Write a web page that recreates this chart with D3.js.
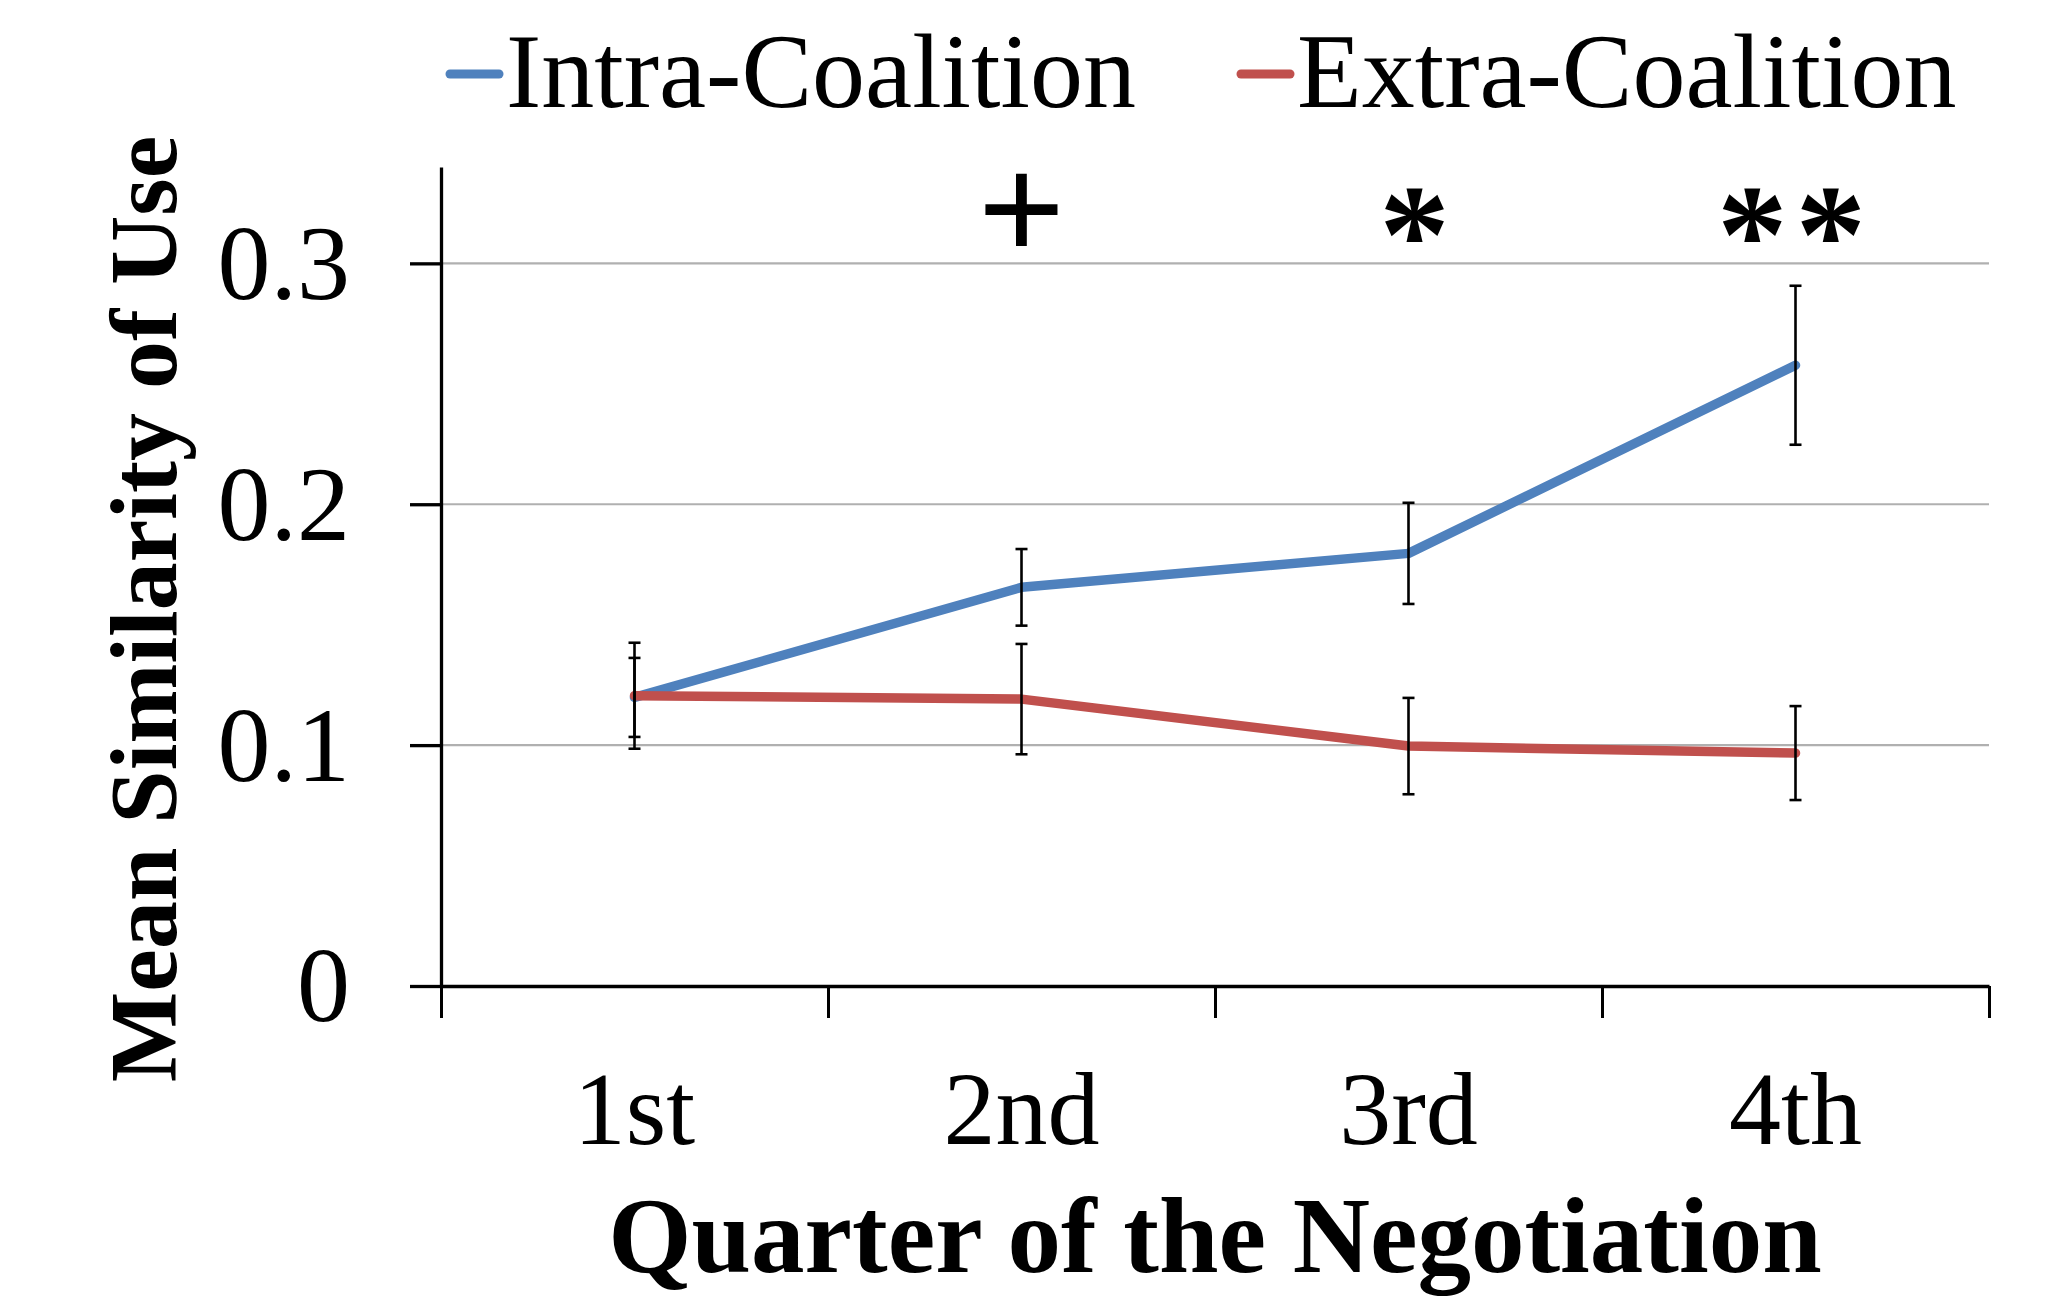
<!DOCTYPE html>
<html lang="en">
<head>
    <meta charset="UTF-8">
    <title>Mean Similarity of Use</title>
    <script src="https://d3js.org/d3.v7.min.js"></script>
    <style>
        body{
            margin: 0;
            background: #ffffff;
        }
        text{
            font-family: "Liberation Serif", "Times New Roman", serif;
            fill: #000000;
        }
    </style>
</head>
<body>
<svg id="chart" width="2046" height="1299"></svg>

<script>
    // data
    let quarters = ["1st", "2nd", "3rd", "4th"]
    let intra_mean = [0.1198, 0.1655, 0.1796, 0.2577]
    let intra_err = [0.0164, 0.0159, 0.0210, 0.0330]
    let extra_mean = [0.1205, 0.1191, 0.0996, 0.0967]
    let extra_err = [0.0220, 0.0229, 0.0200, 0.0195]
    let marks = ["", "+", "*", "**"]
    let y_ticks = [0, 0.1, 0.2, 0.3]

    let series = [
        {name: "Intra-Coalition", color: "#4f81bd", mean: intra_mean, err: intra_err},
        {name: "Extra-Coalition", color: "#c0504d", mean: extra_mean, err: extra_err}
    ]

    let svg = d3.select("#chart")

    let plotLeft = 441, plotRight = 1989, plotTop = 167, plotBottom = 986

    let x = d3.scaleBand()
        .domain(quarters)
        .range([plotLeft, plotRight])
        .padding(0)

    let xEdge = d3.scaleLinear()
        .domain([0, quarters.length])
        .range([plotLeft, plotRight])

    let y = d3.scaleLinear()
        .domain([0, 0.34])
        .range([plotBottom, plotTop])

    let cx = function (i){ return x(quarters[i]) + x.bandwidth() / 2 }

    // gridlines
    svg.append("g")
        .selectAll("line")
        .data(y_ticks.filter(d => d > 0))
        .enter()
        .append("line")
        .attr("x1", plotLeft)
        .attr("x2", plotRight)
        .attr("y1", d => y(d))
        .attr("y2", d => y(d))
        .attr("stroke", "#b0b0b0")
        .attr("stroke-width", 2.2)

    // y axis
    let yAxis = svg.append("g")
        .attr("transform", "translate(" + plotLeft + ",0)")
        .call(d3.axisLeft(y)
            .tickValues(y_ticks)
            .tickFormat(d => d === 0 ? "0" : d3.format(".1f")(d))
            .tickSizeInner(31)
            .tickSizeOuter(0)
            .tickPadding(60))
    yAxis.select(".domain").attr("stroke", "#000").attr("stroke-width", 3.3)
    yAxis.selectAll(".tick line").attr("stroke", "#000").attr("stroke-width", 3.3)
    yAxis.selectAll(".tick text")
        .attr("font-family", "Liberation Serif")
        .attr("font-size", 106)
        .attr("dy", "0.33em")

    // x axis: ticks at the category edges
    let xAxis = svg.append("g")
        .attr("transform", "translate(0," + plotBottom + ")")
        .call(d3.axisBottom(xEdge)
            .ticks(quarters.length)
            .tickFormat("")
            .tickSizeInner(32)
            .tickSizeOuter(0))
    xAxis.select(".domain").attr("stroke", "#000").attr("stroke-width", 3.3)
    xAxis.selectAll(".tick line").attr("stroke", "#000").attr("stroke-width", 3)

    // category labels
    svg.append("g")
        .selectAll("text")
        .data(quarters)
        .enter()
        .append("text")
        .attr("x", d => x(d) + x.bandwidth() / 2)
        .attr("y", 1144)
        .attr("text-anchor", "middle")
        .attr("font-size", 104)
        .text(d => d)

    // lines
    let line = d3.line()
        .x((d, i) => cx(i))
        .y(d => y(d))

    series.forEach(function (s){
        svg.append("path")
            .datum(s.mean)
            .attr("d", line)
            .attr("fill", "none")
            .attr("stroke", s.color)
            .attr("stroke-width", 9.5)
            .attr("stroke-linecap", "round")
            .attr("stroke-linejoin", "round")
    })

    // error bars
    series.forEach(function (s){
        let g = svg.append("g")
            .selectAll("g")
            .data(s.mean)
            .enter()
            .append("g")
            .attr("stroke", "#000")
            .attr("stroke-width", 2.6)
        g.append("line")
            .attr("x1", (d, i) => cx(i))
            .attr("x2", (d, i) => cx(i))
            .attr("y1", (d, i) => y(d + s.err[i]))
            .attr("y2", (d, i) => y(d - s.err[i]))
        g.append("line")
            .attr("x1", (d, i) => cx(i) - 6)
            .attr("x2", (d, i) => cx(i) + 6)
            .attr("y1", (d, i) => y(d + s.err[i]))
            .attr("y2", (d, i) => y(d + s.err[i]))
        g.append("line")
            .attr("x1", (d, i) => cx(i) - 6)
            .attr("x2", (d, i) => cx(i) + 6)
            .attr("y1", (d, i) => y(d - s.err[i]))
            .attr("y2", (d, i) => y(d - s.err[i]))
    })

    // significance marks
    svg.append("g")
        .selectAll("text")
        .data(marks)
        .enter()
        .append("text")
        .attr("x", (d, i) => cx(i) + (d === "*" ? 6 : 0))
        .attr("y", d => d === "+" ? 261 : 282)
        .attr("text-anchor", "middle")
        .attr("font-weight", "bold")
        .attr("font-size", d => d === "+" ? 155 : 141)
        .attr("letter-spacing", d => d.length > 1 ? 8 : 0)
        .text(d => d)

    // legend
    let legendX = [446, 1237]
    let legend = svg.append("g")
        .selectAll("g")
        .data(series)
        .enter()
        .append("g")
        .attr("transform", (d, i) => "translate(" + legendX[i] + ",0)")
    legend.append("line")
        .attr("x1", 4)
        .attr("x2", 53)
        .attr("y1", 74)
        .attr("y2", 74)
        .attr("stroke", d => d.color)
        .attr("stroke-width", 9)
        .attr("stroke-linecap", "round")
    legend.append("text")
        .attr("x", 60)
        .attr("y", 107)
        .attr("font-size", 106)
        .text(d => d.name)

    // axis titles
    svg.append("text")
        .attr("x", (plotLeft + plotRight) / 2)
        .attr("y", 1272)
        .attr("text-anchor", "middle")
        .attr("font-weight", "bold")
        .attr("font-size", 107)
        .text("Quarter of the Negotiation")

    svg.append("text")
        .attr("transform", "translate(176,609) rotate(-90)")
        .attr("text-anchor", "middle")
        .attr("font-weight", "bold")
        .attr("font-size", 96)
        .text("Mean Similarity of Use")
</script>
</body>
</html>
